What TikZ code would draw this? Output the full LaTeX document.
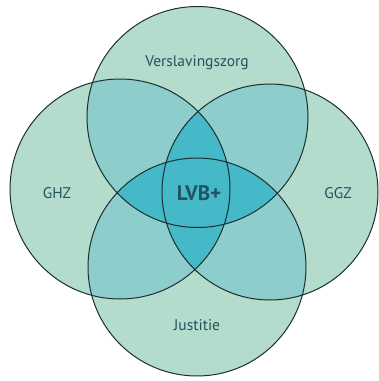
\documentclass[tikz,border=0pt]{standalone}
\usepackage{fontspec}
\setmainfont{PT Sans}
\definecolor{lightfill}{HTML}{B4DCCD}
\definecolor{midfill}{HTML}{8DCDCB}
\definecolor{darkfill}{HTML}{45B9C8}
\definecolor{labeltext}{HTML}{22535F}
\definecolor{ringline}{HTML}{1C2E30}
\begin{document}
\begin{tikzpicture}[x=1pt,y=-1pt,
  ring/.style={draw=ringline,line width=1pt},
  lbl/.style={text=labeltext,font=\fontsize{15.5}{18}\selectfont},
  hub/.style={text=labeltext,font=\fontsize{21}{24}\selectfont\bfseries}]
\useasboundingbox (0,0) rectangle (379,381);
% circle centres and radii
\coordinate (T) at (197.5,117);
\coordinate (L) at (120,189);
\coordinate (R) at (270,192);
\coordinate (B) at (197,267);
\def\rT{110.5}\def\rL{110}\def\rR{108}\def\rB{109}
% base fill of each set
\fill[lightfill] (T) circle (\rT) (L) circle (\rL) (R) circle (\rR) (B) circle (\rB);
% overlaps of neighbouring sets
\begin{scope}\clip (T) circle (\rT);\fill[midfill] (L) circle (\rL) (R) circle (\rR);\end{scope}
\begin{scope}\clip (B) circle (\rB);\fill[midfill] (L) circle (\rL) (R) circle (\rR);\end{scope}
% overlaps of opposite sets
\begin{scope}\clip (L) circle (\rL);\fill[darkfill] (R) circle (\rR);\end{scope}
\begin{scope}\clip (T) circle (\rT);\fill[darkfill] (B) circle (\rB);\end{scope}
% outlines
\draw[ring] (T) circle (\rT);
\draw[ring] (L) circle (\rL);
\draw[ring] (R) circle (\rR);
\draw[ring] (B) circle (\rB);
% labels
\node[lbl] (verslaving) at (197,63) {Verslavingszorg};
\node[lbl] (ghz) at (57,193) {GHZ};
\node[lbl] (ggz) at (338,193) {GGZ};
\node[lbl] (justitie) at (197,325) {Justitie};
\node[hub] (lvb) at (199,193) {LVB+};
\end{tikzpicture}
\end{document}
